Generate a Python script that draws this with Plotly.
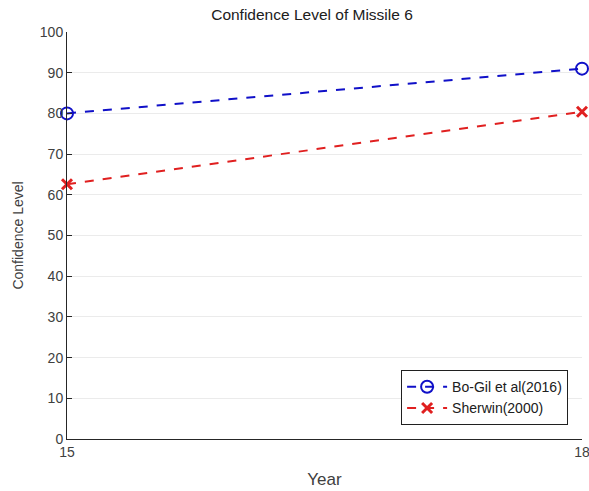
import plotly.graph_objects as go

years = [15, 18]
bogil = [80, 91]
sherwin = [62.6, 80.4]
year_ticks = [15, 18]
level_ticks = [0, 10, 20, 30, 40, 50, 60, 70, 80, 90, 100]

fig = go.Figure()
fig.add_trace(go.Scatter(x=years, y=bogil, mode="lines+markers", name="Bo-Gil et al(2016)",
                         line=dict(color="#1010c8", width=2, dash="dash"),
                         marker=dict(symbol="circle-open", size=12, color="#1010c8", line=dict(width=2)),
                         cliponaxis=False))
fig.add_trace(go.Scatter(x=years, y=sherwin, mode="lines+markers", name="Sherwin(2000)",
                         line=dict(color="#e02020", width=2, dash="dash"),
                         marker=dict(symbol="x-thin-open", size=10, color="#e02020", line=dict(width=3, color="#e02020")),
                         cliponaxis=False))

font = "Liberation Sans, Arial, sans-serif"
fig.update_layout(
    width=589, height=491,
    margin=dict(l=67, r=7, t=32, b=52),
    paper_bgcolor="white", plot_bgcolor="white",
    font=dict(family=font, size=14, color="#404040"),
    title=dict(text="Confidence Level of Missile 6", x=(312 / 589), xanchor="center", y=0.971, yanchor="middle",
               font=dict(size=15.5, color="#202020")),
    showlegend=True,
    legend=dict(x=0.973, y=0.034, xanchor="right", yanchor="bottom",
                bordercolor="#202020", borderwidth=1, bgcolor="white",
                font=dict(size=14, color="#202020"), tracegroupgap=0, itemwidth=40),
)
fig.update_xaxes(range=[15, 18], tickvals=year_ticks, ticktext=[str(v) for v in year_ticks],
                 showgrid=True, gridcolor="#ebebeb", zeroline=False, automargin=False,
                 showline=True, linecolor="#262626", linewidth=1,
                 ticks="inside", ticklen=5, tickcolor="#262626", ticklabeloverflow="allow",
                 title=dict(text="Year", font=dict(size=17, color="#404040"), standoff=14),
                 tickfont=dict(size=14, color="#404040"))
fig.update_yaxes(range=[0, 100], tickvals=level_ticks,
                 showgrid=True, gridcolor="#ebebeb", zeroline=False, automargin=False,
                 showline=True, linecolor="#262626", linewidth=1,
                 ticks="inside", ticklen=5, tickcolor="#262626",
                 title=dict(text="Confidence Level", font=dict(size=14, color="#404040"), standoff=12),
                 tickfont=dict(size=14, color="#404040"))

fig.write_html("out.html", config={"displayModeBar": False},
               post_script="document.body.style.margin='0';document.body.style.overflow='hidden';")
